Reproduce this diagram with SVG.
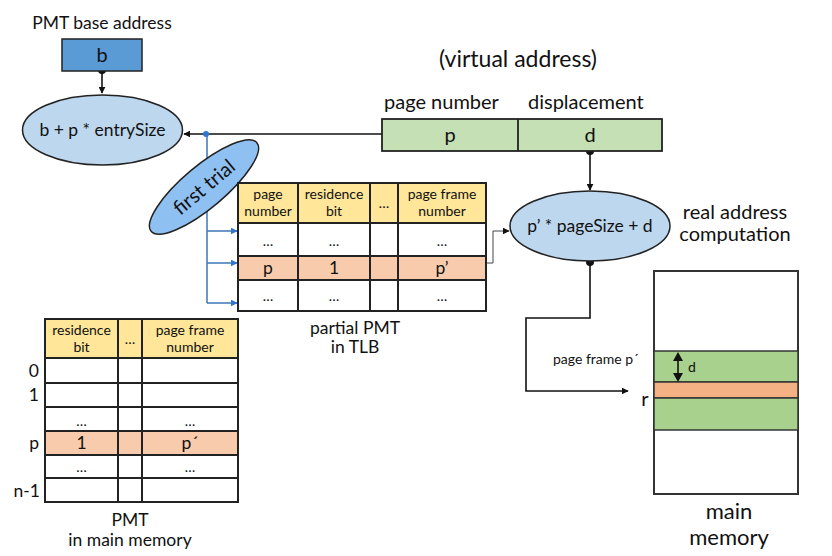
<svg xmlns="http://www.w3.org/2000/svg" width="832" height="556" viewBox="0 0 832 556">
<defs>
<style>
text{font-family:Lato,"Open Sans","Liberation Sans",sans-serif;fill:#111;}
.c{text-anchor:middle;}
.r{text-anchor:end;}
.cell{stroke:#222;stroke-width:2;}
.hdr{fill:#ffe699;}
.wh{fill:#fff;}
.or{fill:#f8cbad;}
.ln{stroke:#111;stroke-width:1.6;fill:none;}
.bl{stroke:#4a7ebb;stroke-width:1.6;fill:none;}
.t14{font-size:14px;}
.t16{font-size:17.5px;}
.t18{font-size:20px;}
</style>
<marker id="ah" viewBox="0 0 10 10" refX="9" refY="5" markerWidth="7" markerHeight="7" orient="auto" markerUnits="userSpaceOnUse"><path d="M0,0L10,5L0,10z" fill="#111"/></marker>
<marker id="ahb" viewBox="0 0 10 10" refX="9" refY="5" markerWidth="7" markerHeight="7" orient="auto" markerUnits="userSpaceOnUse"><path d="M0,0L10,5L0,10z" fill="#2e75d6"/></marker>
</defs>

<g id="connectors">
<line class="ln" x1="102" y1="70" x2="102" y2="93" marker-end="url(#ah)"/>
<circle cx="102" cy="70" r="4" fill="#111"/>
<line class="ln" x1="406" y1="134" x2="184" y2="134" marker-end="url(#ah)"/>
<circle cx="406" cy="134" r="4" fill="#111"/>
<path class="bl" d="M207,134V303"/>
<circle cx="206" cy="134" r="3" fill="#2e75d6"/>
<line class="bl" x1="207" y1="231" x2="237" y2="231" marker-end="url(#ahb)"/>
<line class="bl" x1="207" y1="263" x2="237" y2="263" marker-end="url(#ahb)"/>
<line class="bl" x1="207" y1="303" x2="237" y2="303" marker-end="url(#ahb)"/>
<line class="ln" x1="590" y1="151" x2="590" y2="190" marker-end="url(#ah)"/>
<circle cx="590" cy="151" r="4" fill="#111"/>
<path d="M486,263H493V231H509" stroke="#444" stroke-width="1" fill="none" marker-end="url(#ah)"/>
<path class="ln" d="M590,262V318H526V391H628" marker-end="url(#ah)"/>
<circle cx="590" cy="262" r="4" fill="#111"/>
</g>

<g id="pmt-base">
<text class="t16" x="102" y="29" text-anchor="middle">PMT base address</text>
<rect x="62" y="39" width="80" height="32" fill="#5b9bd5" stroke="#222" stroke-width="1.5"/>
<text class="t18 c" x="102" y="62">b</text>
</g>

<g id="entry-calc">
<ellipse cx="102.5" cy="130" rx="80" ry="35" fill="#bdd7ee" stroke="#222" stroke-width="1.5"/>
<text class="t16 c" x="102.5" y="136">b + p * entrySize</text>
</g>

<g id="virtual-address">
<text class="c" x="518" y="67" font-size="23">(virtual address)</text>
<text class="t18" x="384" y="109">page number</text>
<text class="t18" x="528" y="109">displacement</text>
<rect x="382" y="119" width="280" height="32" fill="#c5e0b4" stroke="#222" stroke-width="1.8"/>
<line x1="518" y1="119" x2="518" y2="151" stroke="#222" stroke-width="1.8"/>
<text class="t18 c" x="450" y="142">p</text>
<text class="t18 c" x="590" y="142">d</text>
</g>

<g id="first-trial">
<ellipse cx="204" cy="187" rx="69" ry="21" transform="rotate(-40 204 187)" fill="#8fc0f2" stroke="#222" stroke-width="1.5"/>
<text class="t18 c" x="204" y="194" transform="rotate(-40 204 187)">first trial</text>
</g>

<g id="tlb">
<rect class="cell hdr" x="238" y="183" width="60" height="40"/>
<rect class="cell hdr" x="298" y="183" width="72" height="40"/>
<rect class="cell hdr" x="370" y="183" width="28" height="40"/>
<rect class="cell hdr" x="398" y="183" width="88" height="40"/>
<rect class="cell wh" x="238" y="223" width="60" height="33"/>
<rect class="cell wh" x="298" y="223" width="72" height="33"/>
<rect class="cell wh" x="370" y="223" width="28" height="33"/>
<rect class="cell wh" x="398" y="223" width="88" height="33"/>
<rect class="cell or" x="238" y="256" width="60" height="24"/>
<rect class="cell or" x="298" y="256" width="72" height="24"/>
<rect class="cell or" x="370" y="256" width="28" height="24"/>
<rect class="cell or" x="398" y="256" width="88" height="24"/>
<rect class="cell wh" x="238" y="280" width="60" height="31"/>
<rect class="cell wh" x="298" y="280" width="72" height="31"/>
<rect class="cell wh" x="370" y="280" width="28" height="31"/>
<rect class="cell wh" x="398" y="280" width="88" height="31"/>
<text class="t14 c" x="268" y="199">page</text>
<text class="t14 c" x="268" y="216">number</text>
<text class="t14 c" x="334" y="199">residence</text>
<text class="t14 c" x="334" y="216">bit</text>
<text class="t14 c" x="384" y="208">…</text>
<text class="t14 c" x="442" y="199">page frame</text>
<text class="t14 c" x="442" y="216">number</text>
<text class="t14 c" x="268" y="246">…</text>
<text class="t14 c" x="334" y="246">…</text>
<text class="t14 c" x="442" y="246">…</text>
<text class="t16 c" x="268" y="274">p</text>
<text class="t16 c" x="334" y="274">1</text>
<text class="t16 c" x="442" y="274">p’</text>
<text class="t14 c" x="268" y="301">…</text>
<text class="t14 c" x="334" y="301">…</text>
<text class="t14 c" x="442" y="301">…</text>
<text class="t16 c" x="355" y="334">partial PMT</text>
<text class="t16 c" x="355" y="353">in TLB</text>
</g>

<g id="pmt-main">
<rect class="cell hdr" x="45" y="319" width="73" height="39"/>
<rect class="cell hdr" x="118" y="319" width="24" height="39"/>
<rect class="cell hdr" x="142" y="319" width="96" height="39"/>
<rect class="cell wh" x="45" y="358" width="73" height="25"/>
<rect class="cell wh" x="118" y="358" width="24" height="25"/>
<rect class="cell wh" x="142" y="358" width="96" height="25"/>
<rect class="cell wh" x="45" y="383" width="73" height="24"/>
<rect class="cell wh" x="118" y="383" width="24" height="24"/>
<rect class="cell wh" x="142" y="383" width="96" height="24"/>
<rect class="cell wh" x="45" y="407" width="73" height="24"/>
<rect class="cell wh" x="118" y="407" width="24" height="24"/>
<rect class="cell wh" x="142" y="407" width="96" height="24"/>
<rect class="cell or" x="45" y="431" width="73" height="24"/>
<rect class="cell or" x="118" y="431" width="24" height="24"/>
<rect class="cell or" x="142" y="431" width="96" height="24"/>
<rect class="cell wh" x="45" y="455" width="73" height="23"/>
<rect class="cell wh" x="118" y="455" width="24" height="23"/>
<rect class="cell wh" x="142" y="455" width="96" height="23"/>
<rect class="cell wh" x="45" y="478" width="73" height="24"/>
<rect class="cell wh" x="118" y="478" width="24" height="24"/>
<rect class="cell wh" x="142" y="478" width="96" height="24"/>
<text class="t14 c" x="81.5" y="335">residence</text>
<text class="t14 c" x="81.5" y="352">bit</text>
<text class="t14 c" x="130" y="344">…</text>
<text class="t14 c" x="190" y="335">page frame</text>
<text class="t14 c" x="190" y="352">number</text>
<text class="t14 c" x="81.5" y="426">…</text>
<text class="t14 c" x="190" y="426">…</text>
<text class="t16 c" x="81.5" y="449">1</text>
<text class="t16 c" x="190" y="449">p´</text>
<text class="t14 c" x="81.5" y="472">…</text>
<text class="t14 c" x="190" y="472">…</text>
<text class="t16 r" x="39" y="377">0</text>
<text class="t16 r" x="39" y="401">1</text>
<text class="t16 r" x="39" y="449">p</text>
<text class="t16 r" x="40" y="497">n-1</text>
<text class="t16 c" x="130" y="526">PMT</text>
<text class="t16 c" x="130" y="546">in main memory</text>
</g>

<g id="real-address">
<ellipse cx="590" cy="226" rx="80" ry="35" fill="#bdd7ee" stroke="#222" stroke-width="1.5"/>
<text class="t16 c" x="590" y="232">p’ * pageSize + d</text>
<text class="t18 c" x="735" y="219">real address</text>
<text class="t18 c" x="735" y="241">computation</text>
</g>

<g id="main-memory">
<rect x="654" y="271" width="144" height="223" fill="#fff" stroke="#333" stroke-width="2"/>
<rect x="654" y="351" width="144" height="31" fill="#a9d18e" stroke="#333" stroke-width="1.5"/>
<rect x="654" y="382" width="144" height="16" fill="#f4b183" stroke="#333" stroke-width="1.5"/>
<rect x="654" y="398" width="144" height="32" fill="#a9d18e" stroke="#333" stroke-width="1.5"/>
<line class="ln" x1="678" y1="360" x2="678" y2="374"/>
<path d="M678,352L673,361H683z M678,382L673,373H683z" fill="#111"/>
<text class="t14" x="688" y="372">d</text>
<text x="553" y="364" font-size="14">page frame p´</text>
<text x="645" y="406" font-size="20" text-anchor="middle">r</text>
<text class="c" x="729" y="519" font-size="22">main</text>
<text class="c" x="729" y="545" font-size="22">memory</text>
</g>
</svg>
